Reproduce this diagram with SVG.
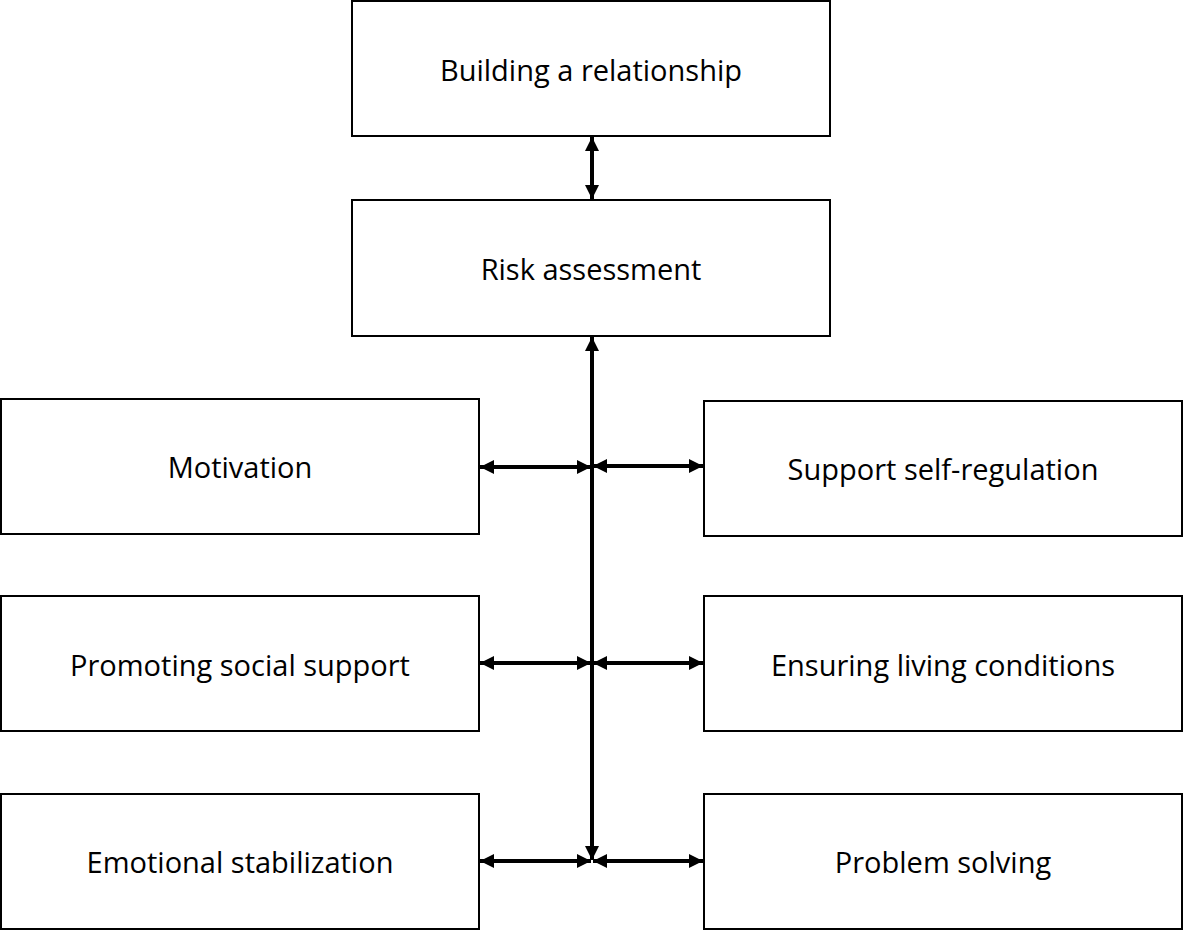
<svg xmlns="http://www.w3.org/2000/svg" width="1183" height="931" viewBox="0 0 1183 931">
<style>
.box{fill:#fff;stroke:#000;stroke-width:2}
.lbl{font-family:"Open Sans","Noto Sans",sans-serif;font-size:29px;fill:#000;text-anchor:middle;dominant-baseline:central}
.con{stroke:#000;stroke-width:4;fill:none}
</style>
<defs>
<marker id="ah" viewBox="0 0 14 14" refX="14" refY="7" markerWidth="14" markerHeight="14" markerUnits="userSpaceOnUse" orient="auto-start-reverse">
<path d="M0,0 L14,7 L0,14 Z" fill="#000"/>
</marker>
</defs>
<rect width="1183" height="931" fill="#fff"/>
<g id="n1"><rect class="box" x="352" y="1" width="478" height="135"/><text class="lbl" x="591" y="69">Building a relationship</text></g>
<g id="n2"><rect class="box" x="352" y="200" width="478" height="136"/><text class="lbl" x="591" y="268">Risk assessment</text></g>
<g id="n3"><rect class="box" x="1" y="399" width="478" height="135"/><text class="lbl" x="240" y="466">Motivation</text></g>
<g id="n4"><rect class="box" x="704" y="401" width="478" height="135"/><text class="lbl" x="943" y="468">Support self-regulation</text></g>
<g id="n5"><rect class="box" x="1" y="596" width="478" height="135"/><text class="lbl" x="240" y="664">Promoting social support</text></g>
<g id="n6"><rect class="box" x="704" y="596" width="478" height="135"/><text class="lbl" x="943" y="664">Ensuring living conditions</text></g>
<g id="n7"><rect class="box" x="1" y="794" width="478" height="135"/><text class="lbl" x="240" y="861">Emotional stabilization</text></g>
<g id="n8"><rect class="box" x="704" y="794" width="478" height="135"/><text class="lbl" x="943" y="861">Problem solving</text></g>
<g id="connectors">
<line class="con" x1="592" y1="137" x2="592" y2="199" marker-start="url(#ah)" marker-end="url(#ah)"/>
<line class="con" x1="592" y1="337" x2="592" y2="860" marker-start="url(#ah)" marker-end="url(#ah)"/>
<line class="con" x1="480" y1="467" x2="591" y2="467" marker-start="url(#ah)" marker-end="url(#ah)"/>
<line class="con" x1="593" y1="466" x2="703" y2="466" marker-start="url(#ah)" marker-end="url(#ah)"/>
<line class="con" x1="480" y1="663" x2="591" y2="663" marker-start="url(#ah)" marker-end="url(#ah)"/>
<line class="con" x1="593" y1="663" x2="703" y2="663" marker-start="url(#ah)" marker-end="url(#ah)"/>
<line class="con" x1="480" y1="861" x2="591" y2="861" marker-start="url(#ah)" marker-end="url(#ah)"/>
<line class="con" x1="593" y1="861" x2="703" y2="861" marker-start="url(#ah)" marker-end="url(#ah)"/>
</g>
</svg>
